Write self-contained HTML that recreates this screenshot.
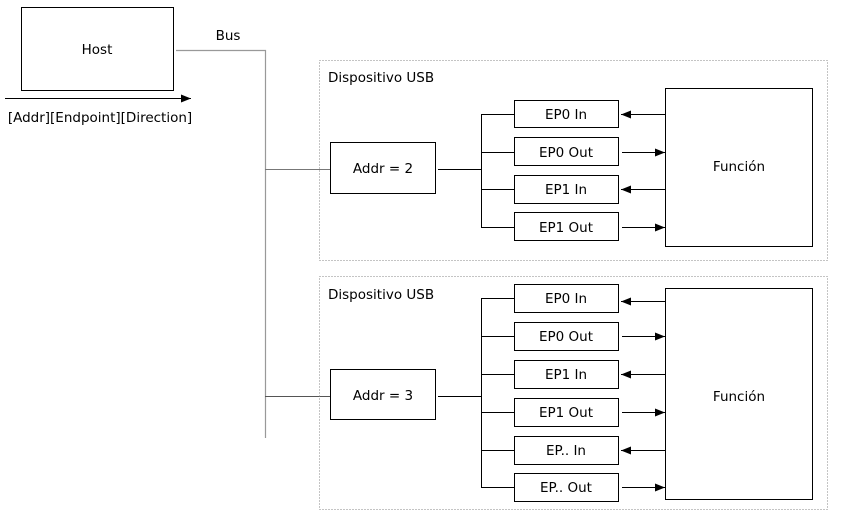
<!DOCTYPE html>
<html><head><meta charset="utf-8"><style>
html,body{margin:0;padding:0;background:#fff;}
svg{display:block;}
text{font-family:"DejaVu Sans","Liberation Sans",sans-serif;font-size:13.5px;fill:#000;}
</style></head><body>
<svg width="843" height="519" viewBox="0 0 843 519" xmlns="http://www.w3.org/2000/svg">
<defs>
<marker id="a" markerWidth="10" markerHeight="8" refX="10" refY="4" orient="auto" markerUnits="userSpaceOnUse">
<path d="M0,0 L10,4 L0,8 z" fill="#000"/></marker>
</defs>
<rect x="21.5" y="7.5" width="152" height="83" fill="#fff" stroke="#000"/>
<text x="97" y="54" text-anchor="middle">Host</text>
<line x1="5" y1="98.5" x2="191" y2="98.5" stroke="#000" marker-end="url(#a)"/>
<text x="100" y="122" text-anchor="middle">[Addr][Endpoint][Direction]</text>
<text x="228" y="40" text-anchor="middle">Bus</text>
<polyline points="176,50.5 265.5,50.5 265.5,438" fill="none" stroke="#999" stroke-width="1.2"/>
<line x1="265" y1="169.5" x2="330" y2="169.5" stroke="#777"/>
<line x1="265" y1="396.5" x2="330" y2="396.5" stroke="#555"/>
<rect x="319.5" y="60.5" width="508" height="200" fill="none" stroke="#888" stroke-dasharray="1,2"/>
<text x="328" y="82">Dispositivo USB</text>
<rect x="330.5" y="142.5" width="105" height="51" fill="#fff" stroke="#000"/>
<text x="383" y="173" text-anchor="middle">Addr = 2</text>
<line x1="438" y1="169.5" x2="482" y2="169.5" stroke="#000"/>
<line x1="481.5" y1="114" x2="481.5" y2="228" stroke="#000"/>
<g stroke="#000">
<line x1="481" y1="114.5" x2="514" y2="114.5"/>
<line x1="481" y1="152.5" x2="514" y2="152.5"/>
<line x1="481" y1="189.5" x2="514" y2="189.5"/>
<line x1="481" y1="227.5" x2="514" y2="227.5"/>
</g>
<g fill="#fff" stroke="#000">
<rect x="514.5" y="100.5" width="104" height="27"/>
<rect x="514.5" y="137.5" width="104" height="28"/>
<rect x="514.5" y="175.5" width="104" height="28"/>
<rect x="514.5" y="212.5" width="104" height="28"/>
</g>
<text x="566" y="119" text-anchor="middle">EP0 In</text>
<text x="566" y="157" text-anchor="middle">EP0 Out</text>
<text x="566" y="194" text-anchor="middle">EP1 In</text>
<text x="566" y="232" text-anchor="middle">EP1 Out</text>
<g stroke="#000">
<line x1="665" y1="114.5" x2="621" y2="114.5" marker-end="url(#a)"/>
<line x1="622" y1="152.5" x2="665" y2="152.5" marker-end="url(#a)"/>
<line x1="665" y1="189.5" x2="621" y2="189.5" marker-end="url(#a)"/>
<line x1="622" y1="227.5" x2="665" y2="227.5" marker-end="url(#a)"/>
</g>
<rect x="665.5" y="88.5" width="147" height="158" fill="#fff" stroke="#000"/>
<text x="739" y="171" text-anchor="middle">Función</text>
<rect x="319.5" y="276.5" width="508" height="233" fill="none" stroke="#888" stroke-dasharray="1,2"/>
<text x="328" y="299">Dispositivo USB</text>
<rect x="330.5" y="369.5" width="105" height="50" fill="#fff" stroke="#000"/>
<text x="383" y="400" text-anchor="middle">Addr = 3</text>
<line x1="438" y1="396.5" x2="482" y2="396.5" stroke="#000"/>
<line x1="481.5" y1="298" x2="481.5" y2="488" stroke="#000"/>
<g stroke="#000">
<line x1="481" y1="298.5" x2="514" y2="298.5"/>
<line x1="481" y1="336.5" x2="514" y2="336.5"/>
<line x1="481" y1="374.5" x2="514" y2="374.5"/>
<line x1="481" y1="412.5" x2="514" y2="412.5"/>
<line x1="481" y1="450.5" x2="514" y2="450.5"/>
<line x1="481" y1="487.5" x2="514" y2="487.5"/>
</g>
<g fill="#fff" stroke="#000">
<rect x="514.5" y="284.5" width="104" height="28"/>
<rect x="514.5" y="322.5" width="104" height="28"/>
<rect x="514.5" y="360.5" width="104" height="28"/>
<rect x="514.5" y="398.5" width="104" height="28"/>
<rect x="514.5" y="436.5" width="104" height="28"/>
<rect x="514.5" y="473.5" width="104" height="28"/>
</g>
<text x="566" y="303" text-anchor="middle">EP0 In</text>
<text x="566" y="341" text-anchor="middle">EP0 Out</text>
<text x="566" y="379" text-anchor="middle">EP1 In</text>
<text x="566" y="417" text-anchor="middle">EP1 Out</text>
<text x="566" y="455" text-anchor="middle">EP.. In</text>
<text x="566" y="492" text-anchor="middle">EP.. Out</text>
<g stroke="#000">
<line x1="665" y1="301.5" x2="621" y2="301.5" marker-end="url(#a)"/>
<line x1="622" y1="336.5" x2="665" y2="336.5" marker-end="url(#a)"/>
<line x1="665" y1="374.5" x2="621" y2="374.5" marker-end="url(#a)"/>
<line x1="622" y1="412.5" x2="665" y2="412.5" marker-end="url(#a)"/>
<line x1="665" y1="450.5" x2="621" y2="450.5" marker-end="url(#a)"/>
<line x1="622" y1="487.5" x2="665" y2="487.5" marker-end="url(#a)"/>
</g>
<rect x="665.5" y="288.5" width="147" height="211" fill="#fff" stroke="#000"/>
<text x="739" y="401" text-anchor="middle">Función</text>
</svg>
</body></html>
